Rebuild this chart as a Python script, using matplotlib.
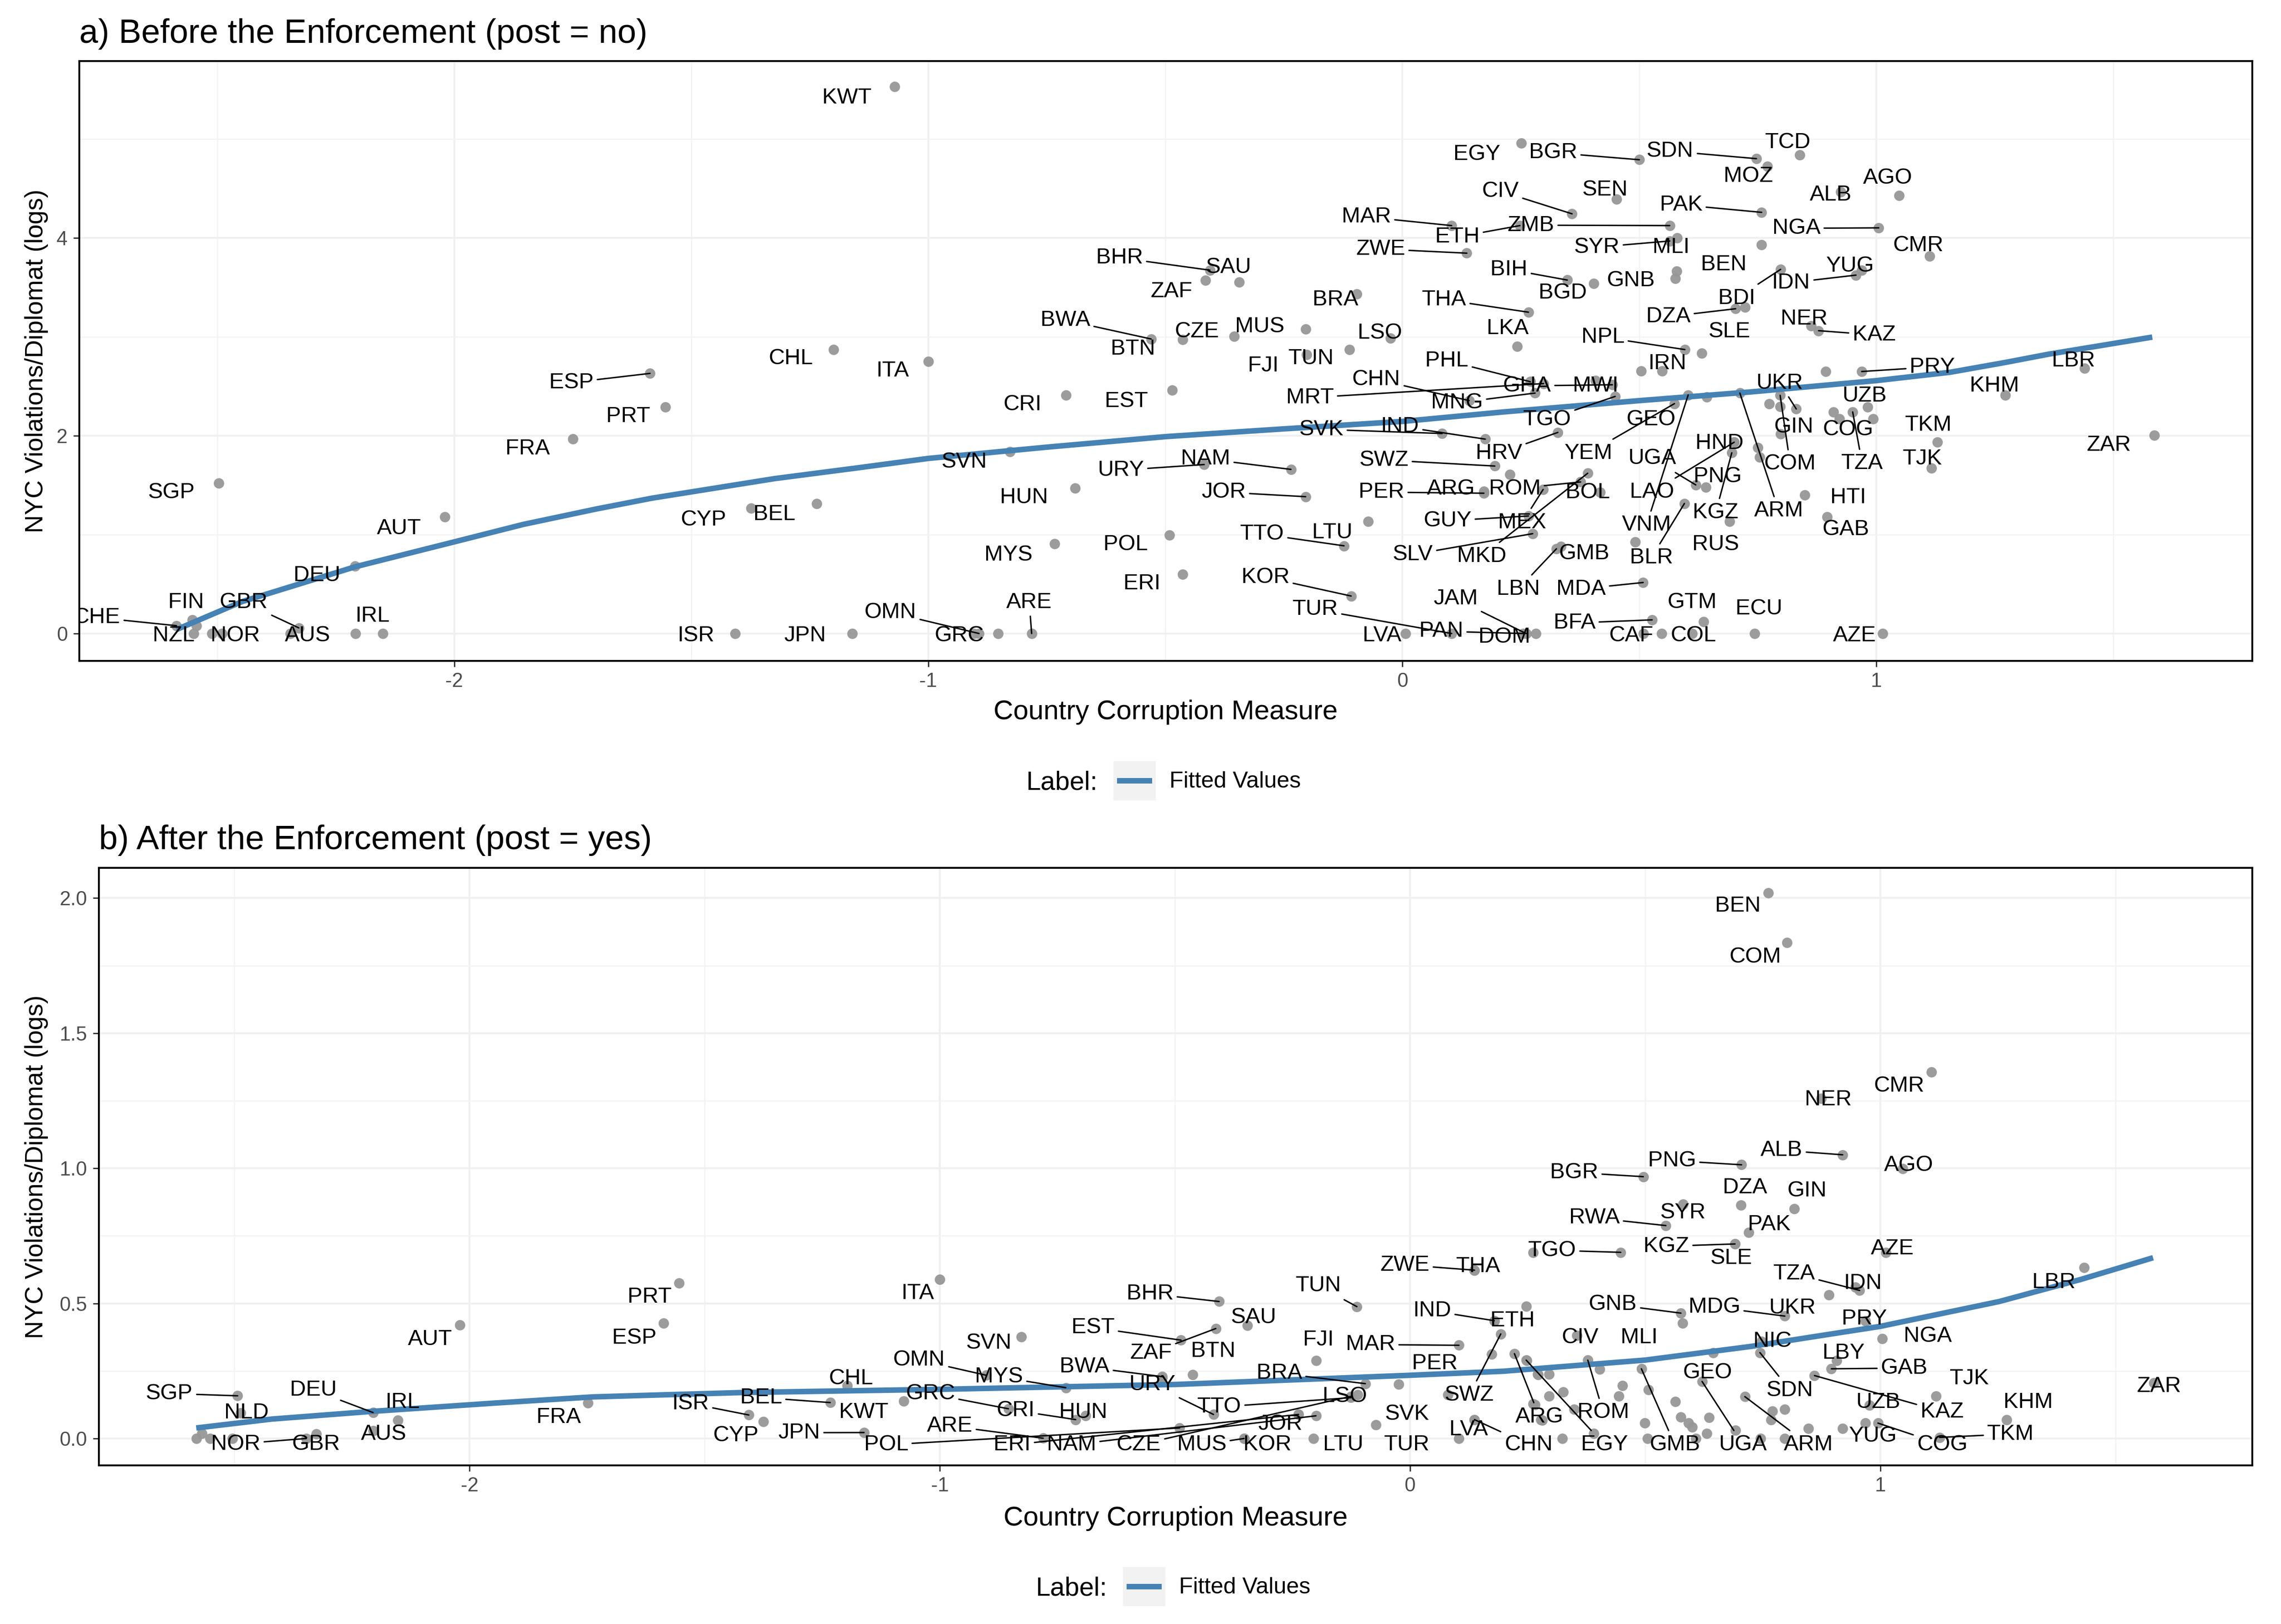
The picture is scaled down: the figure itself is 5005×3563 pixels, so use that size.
#!/usr/bin/env python3
import matplotlib
matplotlib.use("Agg")
import matplotlib.pyplot as plt
from matplotlib.lines import Line2D
from matplotlib.patches import Rectangle

plt.rcParams["font.family"] = ["Liberation Sans", "DejaVu Sans"]

# panel a, before the enforcement
a_codes = ["SGP", "ESP", "PRT", "FRA", "AUT", "DEU", "CHE", "FIN", "NZL", "NOR",
           "GBR", "AUS", "IRL", "ISR", "CYP", "BEL", "KWT", "CHL", "ITA", "CRI",
           "EST", "BHR", "SAU", "ZAF", "BWA", "BTN", "CZE", "MUS", "FJI", "TUN",
           "LSO", "BRA", "MAR", "ETH", "ZWE", "EGY", "CIV", "ZMB", "BIH", "BGD",
           "THA", "LKA", "PHL", "CHN", "MRT", "MNG", "GHA", "MWI", "TGO", "HRV",
           "SVK", "IND", "SVN", "NAM", "URY", "HUN", "JOR", "SWZ", "PER", "ARG",
           "ROM", "GUY", "MEX", "TTO", "LTU", "SLV", "MKD", "BOL", "MYS", "POL",
           "ERI", "KOR", "TUR", "LVA", "PAN", "JAM", "DOM", "LBN", "GMB", "OMN",
           "GRC", "ARE", "JPN", "BGR", "SDN", "TCD", "MOZ", "AGO", "ALB", "SEN",
           "PAK", "NGA", "SYR", "MLI", "CMR", "BEN", "YUG", "IDN", "GNB", "BDI",
           "DZA", "SLE", "NER", "KAZ", "NPL", "IRN", "PRY", "KHM", "LBR", "UKR",
           "UZB", "GIN", "COM", "COG", "TKM", "TZA", "TJK", "ZAR", "HTI", "GAB",
           "ARM", "HND", "UGA", "PNG", "LAO", "VNM", "BLR", "KGZ", "RUS", "YEM",
           "GEO", "MDA", "GTM", "ECU", "COL", "CAF", "BFA", "AZE"]
a_x = [-2.497, -1.587, -1.555, -1.750, -2.020, -2.209, -2.586, -2.553, -2.550, -2.511,
       -2.328, -2.346, -2.151, -1.408, -1.374, -1.235, -1.071, -1.200, -1.000, -0.710,
       -0.486, -0.406, -0.344, -0.415, -0.530, -0.463, -0.355, -0.204, -0.202, -0.112,
       -0.025, -0.096, 0.104, 0.248, 0.136, 0.251, 0.358, 0.564, 0.348, 0.404,
       0.266, 0.242, 0.270, 0.141, 0.298, 0.280, 0.443, 0.408, 0.449, 0.328,
       0.084, 0.175, -0.828, -0.235, -0.418, -0.690, -0.204, 0.195, 0.172, 0.172,
       0.376, 0.266, 0.297, -0.123, -0.072, 0.275, 0.391, 0.417, -0.734, -0.491,
       -0.463, -0.108, 0.104, 0.007, 0.255, 0.261, 0.282, 0.325, 0.335, -0.893,
       -0.904, -0.782, -1.160, 0.500, 0.747, 0.838, 0.770, 1.048, 0.925, 0.452,
       0.758, 1.005, 0.564, 0.580, 1.112, 0.758, 0.969, 0.957, 0.576, 0.798,
       0.703, 0.723, 0.862, 0.878, 0.596, 0.548, 0.969, 1.272, 1.439, 0.831,
       0.982, 0.798, 0.797, 0.909, 1.129, 0.950, 1.116, 1.586, 0.849, 0.896,
       0.712, 0.700, 0.619, 0.640, 0.700, 0.603, 0.595, 0.695, 0.690, 0.574,
       0.642, 0.508, 0.635, 0.743, 0.611, 0.509, 0.527, 1.013]
a_y = [1.523, 2.631, 2.291, 1.969, 1.179, 0.684, 0.079, 0.137, 0.000, 0.000,
       0.057, 0.000, 0.000, 0.000, 1.267, 1.315, 5.530, 2.872, 2.753, 2.409,
       2.463, 3.675, 3.556, 3.572, 2.979, 2.975, 3.006, 3.078, 2.822, 2.872,
       2.987, 3.434, 4.126, 4.126, 3.847, 4.960, 4.245, 4.126, 3.575, 3.541,
       3.250, 2.906, 2.547, 2.356, 2.528, 2.432, 2.516, 2.560, 2.398, 2.034,
       2.023, 1.966, 1.839, 1.660, 1.709, 1.472, 1.384, 1.694, 1.419, 1.440,
       1.533, 1.189, 1.457, 0.887, 1.132, 1.010, 1.621, 1.430, 0.906, 0.994,
       0.600, 0.379, 0.000, 0.000, 0.000, 0.000, 0.000, 0.857, 0.880, 0.000,
       0.000, 0.000, 0.000, 4.792, 4.803, 4.841, 4.727, 4.428, 4.467, 4.394,
       4.260, 4.103, 3.970, 4.000, 3.816, 3.931, 3.675, 3.625, 3.591, 3.683,
       3.285, 3.300, 3.113, 3.063, 2.872, 2.654, 2.650, 2.409, 2.681, 2.271,
       2.291, 2.019, 2.409, 2.241, 1.935, 2.241, 1.675, 2.004, 1.400, 1.178,
       2.432, 1.935, 1.503, 1.480, 1.935, 2.413, 1.315, 1.828, 1.132, 2.325,
       2.394, 0.516, 0.119, 0.000, 0.000, 0.000, 0.138, 0.000]
# where each code is written, in data units
a_label_x = [-2.596, -1.753, -1.633, -1.845, -2.116, -2.290, -2.754, -2.566, -2.592, -2.462,
             -2.444, -2.309, -2.172, -1.490, -1.474, -1.325, -1.172, -1.290, -1.075, -0.801,
             -0.582, -0.597, -0.366, -0.487, -0.711, -0.568, -0.433, -0.301, -0.293, -0.192,
             -0.047, -0.141, -0.076, 0.116, -0.046, 0.157, 0.207, 0.271, 0.225, 0.338,
             0.088, 0.222, 0.094, -0.055, -0.195, 0.115, 0.263, 0.408, 0.305, 0.204,
             -0.171, -0.005, -0.924, -0.415, -0.594, -0.798, -0.377, -0.039, -0.044, 0.103,
             0.237, 0.095, 0.253, -0.296, -0.148, 0.022, 0.167, 0.391, -0.831, -0.584,
             -0.549, -0.289, -0.184, -0.043, 0.082, 0.112, 0.215, 0.245, 0.384, -1.080,
             -0.935, -0.787, -1.260, 0.318, 0.565, 0.813, 0.730, 1.024, 0.904, 0.428,
             0.588, 0.831, 0.410, 0.567, 1.088, 0.678, 0.945, 0.820, 0.482, 0.705,
             0.561, 0.690, 0.847, 0.995, 0.423, 0.559, 1.118, 1.249, 1.416, 0.796,
             0.975, 0.826, 0.818, 0.940, 1.110, 0.970, 1.097, 1.490, 0.941, 0.935,
             0.794, 0.669, 0.527, 0.665, 0.527, 0.515, 0.525, 0.661, 0.661, 0.393,
             0.525, 0.377, 0.611, 0.752, 0.614, 0.483, 0.363, 0.954]
a_label_y = [1.448, 2.561, 2.221, 1.894, 1.086, 0.609, 0.185, 0.340, 0.000, 0.000,
             0.340, 0.000, 0.199, 0.000, 1.174, 1.230, 5.440, 2.803, 2.681, 2.337,
             2.371, 3.824, 3.728, 3.484, 3.193, 2.902, 3.075, 3.128, 2.730, 2.803,
             3.063, 3.400, 4.237, 4.034, 3.912, 4.872, 4.497, 4.153, 3.706, 3.468,
             3.400, 3.109, 2.784, 2.593, 2.409, 2.356, 2.528, 2.528, 2.187, 1.847,
             2.088, 2.119, 1.759, 1.790, 1.675, 1.400, 1.453, 1.778, 1.453, 1.488,
             1.488, 1.163, 1.147, 1.029, 1.044, 0.822, 0.803, 1.449, 0.818, 0.922,
             0.528, 0.593, 0.268, 0.000, 0.046, 0.375, -0.010, 0.474, 0.834, 0.237,
             0.000, 0.340, 0.000, 4.887, 4.902, 4.990, 4.650, 4.631, 4.459, 4.512,
             4.359, 4.122, 3.931, 3.931, 3.946, 3.755, 3.740, 3.572, 3.591, 3.415,
             3.228, 3.075, 3.208, 3.044, 3.021, 2.753, 2.719, 2.528, 2.784, 2.558,
             2.428, 2.115, 1.740, 2.084, 2.134, 1.744, 1.790, 1.927, 1.400, 1.075,
             1.266, 1.946, 1.793, 1.610, 1.453, 1.120, 0.788, 1.247, 0.922, 1.847,
             2.187, 0.474, 0.340, 0.272, 0.000, 0.000, 0.130, 0.000]
a_linked = ["ESP", "CHE", "GBR", "BHR", "BWA", "MAR", "ETH", "ZWE", "CIV", "ZMB", "BIH",
            "THA", "PHL", "CHN", "MRT", "MNG", "GHA", "TGO", "HRV", "SVK", "IND", "NAM",
            "URY", "JOR", "SWZ", "PER", "ROM", "GUY", "MEX", "TTO", "SLV", "MKD", "KOR",
            "TUR", "PAN", "JAM", "LBN", "OMN", "ARE", "BGR", "SDN", "PAK", "NGA", "SYR",
            "IDN", "BDI", "DZA", "KAZ", "NPL", "PRY", "UKR", "COM", "TZA", "ARM", "UGA",
            "LAO", "VNM", "BLR", "KGZ", "YEM", "MDA", "BFA"]
# points whose label was dropped
a_extra_x = [-2.544, -2.208, -2.490, -0.853, 0.547, 0.632, 0.504, 0.893, 0.579,
             0.774, 0.797, 0.922, 0.993, 0.750, 0.754, 0.491, 0.227]
a_extra_y = [0.079, 0.000, 0.000, 0.000, 0.000, 2.837, 2.654, 2.650, 3.663,
             2.325, 2.294, 2.172, 2.172, 1.881, 1.782, 0.925, 1.610]
a_fit_x = [-2.586, -2.448, -2.209, -2.000, -1.854, -1.700, -1.583, -1.324, -1.150, -1.000,
           -0.750, -0.498, -0.250, 0.000, 0.213, 0.501, 0.736, 1.000, 1.155, 1.270, 1.364, 1.582]
a_fit_y = [0.040, 0.322, 0.675, 0.927, 1.104, 1.260, 1.369, 1.567, 1.675, 1.771,
           1.885, 1.992, 2.070, 2.145, 2.241, 2.356, 2.444, 2.558, 2.642, 2.740, 2.826, 2.998]

# panel b, after the enforcement
b_codes = ["SGP", "NLD", "DEU", "IRL", "AUS", "NOR", "GBR", "AUT", "ESP", "PRT",
           "FRA", "ISR", "CYP", "BEL", "ITA", "CHL", "KWT", "JPN", "POL", "ARE",
           "ERI", "NAM", "CZE", "MUS", "KOR", "TTO", "GRC", "CRI", "HUN", "OMN",
           "MYS", "SVN", "EST", "BTN", "ZAF", "BHR", "SAU", "BWA", "URY", "TUN",
           "FJI", "BRA", "LSO", "JOR", "LTU", "SVK", "TUR", "ZWE", "THA", "MAR",
           "IND", "ETH", "PER", "SWZ", "LVA", "CHN", "CMR", "NER", "ALB", "PNG",
           "BGR", "AGO", "DZA", "GIN", "RWA", "SYR", "PAK", "TGO", "KGZ", "SLE",
           "AZE", "TZA", "IDN", "LBR", "GNB", "MDG", "UKR", "PRY", "CIV", "MLI",
           "NIC", "NGA", "LBY", "GAB", "TJK", "SDN", "GEO", "UZB", "KAZ", "KHM",
           "TKM", "COG", "YUG", "ARM", "UGA", "GMB", "EGY", "ROM", "ARG", "ZAR",
           "BEN", "COM"]
b_x = [-2.493, -2.487, -2.205, -2.152, -2.205, -2.347, -2.326, -2.020, -1.587, -1.554,
       -1.748, -1.406, -1.375, -1.233, -1.000, -1.197, -1.077, -1.161, -0.490, -0.780,
       -0.237, -0.200, -0.126, -0.353, -0.353, -0.126, -0.854, -0.711, -0.690, -0.901,
       -0.732, -0.827, -0.487, -0.462, -0.413, -0.406, -0.346, -0.527, -0.418, -0.113,
       -0.200, -0.095, -0.111, -0.237, -0.205, -0.073, 0.104, 0.137, 0.137, 0.104,
       0.179, 0.179, -0.024, 0.193, 0.137, 0.137, 1.109, 0.874, 0.920, 0.705,
       0.496, 1.048, 0.704, 0.817, 0.544, 0.581, 0.720, 0.448, 0.691, 0.691,
       1.012, 0.956, 0.947, 1.433, 0.576, 0.797, 0.891, 0.968, 0.355, 0.580,
       0.747, 1.004, 0.907, 0.896, 1.118, 0.744, 0.645, 0.977, 0.860, 1.269,
       1.126, 0.995, 0.968, 0.712, 0.621, 0.492, 0.247, 0.378, 0.222, 1.582,
       0.762, 0.802]
b_y = [0.158, 0.094, 0.096, 0.068, 0.029, 0.000, 0.017, 0.420, 0.426, 0.576,
       0.132, 0.087, 0.062, 0.133, 0.588, 0.195, 0.138, 0.022, 0.039, 0.001,
       0.089, 0.084, 0.156, 0.000, 0.000, 0.151, 0.110, 0.070, 0.084, 0.234,
       0.188, 0.376, 0.364, 0.237, 0.407, 0.507, 0.419, 0.229, 0.089, 0.488,
       0.288, 0.203, 0.162, 0.089, 0.000, 0.051, 0.000, 0.623, 0.623, 0.345,
       0.436, 0.436, 0.201, 0.387, 0.070, 0.070, 1.357, 1.258, 1.050, 1.013,
       0.969, 0.999, 0.864, 0.850, 0.788, 0.867, 0.763, 0.689, 0.720, 0.720,
       0.688, 0.548, 0.560, 0.632, 0.464, 0.453, 0.531, 0.435, 0.382, 0.426,
       0.359, 0.370, 0.288, 0.258, 0.157, 0.318, 0.317, 0.124, 0.233, 0.069,
       0.004, 0.057, 0.057, 0.155, 0.211, 0.258, 0.290, 0.290, 0.314, 0.205,
       2.020, 1.836]
b_label_x = [-2.638, -2.474, -2.332, -2.142, -2.182, -2.497, -2.326, -2.084, -1.650, -1.617,
             -1.810, -1.530, -1.434, -1.380, -1.047, -1.189, -1.162, -1.299, -1.114, -0.979,
             -0.846, -0.720, -0.577, -0.443, -0.303, -0.406, -1.020, -0.839, -0.695, -1.044,
             -0.874, -0.895, -0.674, -0.419, -0.551, -0.553, -0.332, -0.692, -0.548, -0.195,
             -0.195, -0.278, -0.139, -0.276, -0.142, -0.006, -0.007, -0.011, 0.145, -0.084,
             0.047, 0.218, 0.053, 0.126, 0.125, 0.252, 1.040, 0.889, 0.790, 0.557,
             0.349, 1.060, 0.712, 0.844, 0.392, 0.581, 0.764, 0.302, 0.545, 0.683,
             1.026, 0.817, 0.963, 1.369, 0.431, 0.647, 0.813, 0.966, 0.362, 0.487,
             0.771, 1.101, 0.922, 1.051, 1.189, 0.808, 0.633, 0.995, 1.131, 1.314,
             1.277, 1.132, 0.984, 0.847, 0.708, 0.563, 0.413, 0.411, 0.275, 1.593,
             0.697, 0.734]
b_label_y = [0.175, 0.104, 0.188, 0.143, 0.025, -0.012, -0.012, 0.376, 0.381, 0.533,
             0.087, 0.138, 0.019, 0.160, 0.545, 0.230, 0.106, 0.030, -0.015, 0.055,
             -0.015, -0.015, -0.015, -0.015, -0.015, 0.125, 0.174, 0.112, 0.106, 0.299,
             0.237, 0.362, 0.419, 0.331, 0.325, 0.544, 0.456, 0.274, 0.208, 0.574,
             0.374, 0.250, 0.164, 0.061, -0.015, 0.099, -0.015, 0.651, 0.645, 0.356,
             0.481, 0.444, 0.286, 0.170, 0.042, -0.014, 1.314, 1.262, 1.075, 1.037,
             0.993, 1.019, 0.937, 0.925, 0.825, 0.844, 0.800, 0.705, 0.720, 0.675,
             0.711, 0.619, 0.583, 0.587, 0.505, 0.495, 0.492, 0.451, 0.382, 0.382,
             0.368, 0.387, 0.324, 0.269, 0.231, 0.187, 0.252, 0.143, 0.108, 0.143,
             0.025, -0.014, 0.018, -0.014, -0.014, -0.014, -0.014, 0.105, 0.089, 0.201,
             1.980, 1.790]
b_linked = ["SGP", "DEU", "NOR", "ISR", "BEL", "JPN", "POL", "ARE", "ERI", "NAM", "CZE",
            "MUS", "TTO", "GRC", "CRI", "OMN", "MYS", "EST", "ZAF", "BHR", "BWA", "URY",
            "TUN", "BRA", "ZWE", "MAR", "IND", "SWZ", "CHN", "ALB", "PNG", "BGR", "RWA",
            "TGO", "KGZ", "TZA", "GNB", "MDG", "GAB", "SDN", "KAZ", "TKM", "COG", "ARM",
            "UGA", "GMB", "EGY", "ROM", "ARG"]
b_extra_x = [-2.581, -2.569, -2.552, -2.504, -0.527, 0.174, 0.248, 0.272, 0.296, 0.266,
             0.281, 0.271, 0.296, 0.326, 0.262, 0.278, 0.349, 0.403, 0.452, 0.444,
             0.507, 0.564, 0.576, 0.592, 0.600, 0.636, 0.631, 0.692, 0.499, 0.505,
             0.608, 0.745, 0.797, 0.771, 0.797, 0.768, 0.324, 0.391, 0.920, 0.847,
             0.262, 0.247, 0.081]
b_extra_y = [0.000, 0.019, 0.000, 0.000, 0.224, 0.312, 0.288, 0.236, 0.238, 0.125,
             0.068, 0.238, 0.157, 0.172, 0.128, 0.069, 0.108, 0.256, 0.195, 0.157,
             0.181, 0.137, 0.080, 0.057, 0.043, 0.077, 0.019, 0.031, 0.057, 0.000,
             0.000, 0.000, 0.000, 0.101, 0.108, 0.069, 0.000, 0.019, 0.037, 0.037,
             0.688, 0.489, 0.162]
b_fit_x = [-2.581, -2.420, -2.210, -1.947, -1.737, -1.422, -1.000, -0.498, 0.000,
           0.199, 0.499, 0.726, 1.000, 1.253, 1.427, 1.580]
b_fit_y = [0.039, 0.072, 0.100, 0.131, 0.154, 0.170, 0.182, 0.200, 0.234,
           0.249, 0.290, 0.341, 0.415, 0.507, 0.589, 0.669]

W, H = 5005, 3563
BLUE = "#4682b4"


def px_box(left, top, right, bottom):
    return [left / W, 1 - bottom / H, (right - left) / W, (bottom - top) / H]


def panel(box, xlim, ylim, yticks, yminor, ylabels, codes, xs, ys, lx, ly, linked,
          ex, ey, fx, fy):
    ax = fig.add_axes(px_box(*box))
    ax.set_xlim(xlim)
    ax.set_ylim(ylim)
    ax.set_xticks([-2, -1, 0, 1], ["-2", "-1", "0", "1"])
    ax.set_xticks([-2.5, -1.5, -0.5, 0.5, 1.5], minor=True)
    ax.set_yticks(yticks, ylabels)
    ax.set_yticks(yminor, minor=True)
    ax.grid(True, which="major", color="#f0f0f0", lw=1.0)
    ax.grid(True, which="minor", color="#f3f3f3", lw=0.6)
    ax.set_axisbelow(True)
    ax.tick_params(which="major", length=3.1, width=0.7, color="#333333",
                   labelcolor="#4d4d4d", labelsize=10.5, pad=3)
    ax.tick_params(which="minor", length=0)
    for s in ax.spines.values():
        s.set_linewidth(1.0)
        s.set_color("black")
    ax.scatter(list(xs) + list(ex), list(ys) + list(ey), s=30, color="#979797",
               alpha=0.95, linewidths=0, zorder=2)
    ax.plot(fx, fy, color=BLUE, lw=2.9, solid_capstyle="butt", zorder=3)
    for code, x, y, tx, ty in zip(codes, xs, ys, lx, ly, strict=True):
        arrow = None
        if code in linked:
            arrow = dict(arrowstyle="-", color="black", lw=0.75, shrinkA=0, shrinkB=0)
        ax.annotate(code, xy=(x, y), xytext=(tx, ty), ha="center", va="center_baseline",
                    fontsize=11.7, color="black", arrowprops=arrow, clip_on=True,
                    zorder=4)
    return ax


fig = plt.figure(figsize=(5005.01 / 300, 3563.01 / 300), dpi=300)

panel((174, 134, 4942, 1450), (-2.791, 1.793), (-0.277, 5.79), [0, 2, 4], [1, 3, 5],
      ["0", "2", "4"], a_codes, a_x, a_y, a_label_x, a_label_y, a_linked,
      a_extra_x, a_extra_y, a_fit_x, a_fit_y)
panel((217, 1904, 4942, 3215), (-2.788, 1.791), (-0.0995, 2.112),
      [0, 0.5, 1, 1.5, 2], [0.25, 0.75, 1.25, 1.75],
      ["0.0", "0.5", "1.0", "1.5", "2.0"], b_codes, b_x, b_y, b_label_x, b_label_y,
      b_linked, b_extra_x, b_extra_y, b_fit_x, b_fit_y)


def put(x, y, s, **kw):
    fig.text(x / W, 1 - y / H, s, **kw)


put(174, 74, "a) Before the Enforcement (post = no)", fontsize=17.8, va="center")
put(217, 1843, "b) After the Enforcement (post = yes)", fontsize=17.8, va="center")
put(2558, 1562, "Country Corruption Measure", fontsize=14.4, ha="center", va="center")
put(2580, 3331, "Country Corruption Measure", fontsize=14.4, ha="center", va="center")
put(80, 792, "NYC Violations/Diplomat (logs)", fontsize=13.2, rotation=90,
    ha="center", va="center")
put(80, 2560, "NYC Violations/Diplomat (logs)", fontsize=13.2, rotation=90,
    ha="center", va="center")

# legends, one under each panel
for key_left, key_top in [(2443, 1670), (2464, 3438)]:
    fig.add_artist(Rectangle((key_left / W, 1 - (key_top + 86) / H), 93 / W, 86 / H,
                             transform=fig.transFigure, facecolor="#f2f2f2", edgecolor="none"))
    fig.add_artist(Line2D([(key_left + 8) / W, (key_left + 85) / W],
                          [1 - (key_top + 43) / H] * 2, transform=fig.transFigure,
                          color=BLUE, lw=2.9, solid_capstyle="butt"))
    put(key_left - 113, key_top + 47, "Label:", fontsize=13.8, ha="center", va="center")
    put(key_left + 123, key_top + 45, "Fitted Values", fontsize=12.0, va="center")

fig.savefig("out.png", dpi=300)
